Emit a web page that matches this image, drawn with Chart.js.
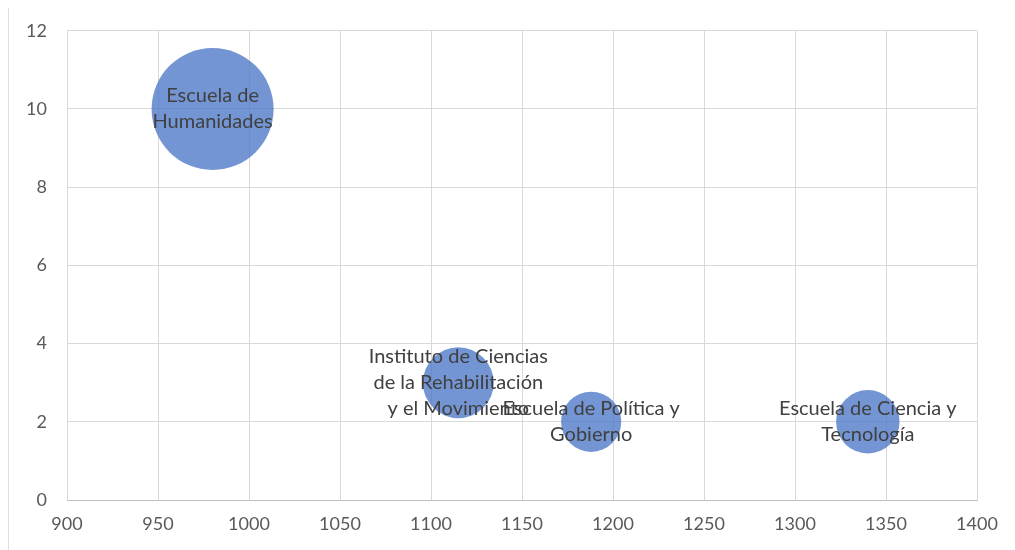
<!DOCTYPE html>
<html>
<head>
<meta charset="utf-8">
<script src="https://cdn.jsdelivr.net/npm/chart.js@4/dist/chart.umd.min.js"></script>
<style>
  html, body { margin: 0; padding: 0; background: #fff; }
  #wrap { width: 1015px; height: 550px; position: relative; }
</style>
</head>
<body>
<div id="wrap"><canvas id="bubbleChart" width="1015" height="550"></canvas></div>
<script>
// datos
var schools = [
    ['Escuela de', 'Humanidades'],
    ['Instituto de Ciencias', 'de la Rehabilitación', 'y el Movimiento'],
    ['Escuela de Política y', 'Gobierno'],
    ['Escuela de Ciencia y', 'Tecnología']
];
var xValues = [980, 1115, 1188, 1340];
var yValues = [10, 3, 2, 2];
var sizes = [37, 12.5, 9, 10];
var xTicks = [900, 950, 1000, 1050, 1100, 1150, 1200, 1250, 1300, 1350, 1400];
var yTicks = [0, 2, 4, 6, 8, 10, 12];

// area del circulo proporcional al tamaño (como Excel)
var maxRadius = 61;
var maxSize = Math.max.apply(null, sizes);

var points = [];
for (var i = 0; i < xValues.length; i++) {
    points.push({ x: xValues[i], y: yValues[i], r: maxRadius * Math.sqrt(sizes[i] / maxSize) });
}

var bubbleLabels = {
    id: 'bubbleLabels',
    afterDatasetsDraw: function (chart) {
        var ctx = chart.ctx;
        var meta = chart.getDatasetMeta(0);
        ctx.save();
        ctx.font = '20px Lato, "Liberation Sans", sans-serif';
        ctx.fillStyle = '#404040';
        ctx.textAlign = 'center';
        ctx.textBaseline = 'middle';
        meta.data.forEach(function (el, idx) {
            var lines = schools[idx];
            var lh = 26;
            var start = el.y - (lines.length - 1) * lh / 2;
            lines.forEach(function (line, j) {
                ctx.fillText(line, el.x, start + j * lh);
            });
        });
        ctx.restore();
    }
};

var frameLine = {
    id: 'frameLine',
    beforeDraw: function (chart) {
        var ctx = chart.ctx;
        ctx.save();
        ctx.strokeStyle = '#e0e0e0';
        ctx.lineWidth = 1;
        ctx.beginPath();
        ctx.moveTo(8.5, 8);
        ctx.lineTo(8.5, 550);
        ctx.stroke();
        ctx.restore();
    }
};

var ctx = document.getElementById('bubbleChart').getContext('2d');
var chart = new Chart(ctx, {
    type: 'bubble',
    data: {
        datasets: [{
            label: 'Escuelas',
            data: points,
            backgroundColor: 'rgba(68, 114, 196, 0.75)',
            borderWidth: 0,
            hoverRadius: 0,
            clip: false
        }]
    },
    options: {
        responsive: false,
        animation: false,
        layout: {
            autoPadding: false,
            padding: { top: 29, right: 38, left: 0, bottom: 0 }
        },
        scales: {
            x: {
                type: 'linear',
                min: 900,
                max: 1400,
                afterBuildTicks: function (axis) {
                    axis.ticks = xTicks.map(function (v) { return { value: v }; });
                },
                afterFit: function (axis) { axis.height = 50; },
                grid: { color: '#d9d9d9', lineWidth: 1, drawTicks: false },
                border: { color: '#bfbfbf', width: 1 },
                ticks: {
                    color: '#595959',
                    font: { family: 'Lato, "Liberation Sans", sans-serif', size: 18 },
                    padding: 13,
                    maxRotation: 0,
                    autoSkip: false,
                    callback: function (value) { return String(value); }
                }
            },
            y: {
                type: 'linear',
                min: 0,
                max: 12,
                afterBuildTicks: function (axis) {
                    axis.ticks = yTicks.map(function (v) { return { value: v }; });
                },
                afterFit: function (axis) { axis.width = 67; },
                grid: { color: '#d9d9d9', lineWidth: 1, drawTicks: false },
                border: { display: false },
                ticks: {
                    color: '#595959',
                    font: { family: 'Lato, "Liberation Sans", sans-serif', size: 18 },
                    padding: 20,
                    callback: function (value) { return String(value); }
                }
            }
        },
        plugins: {
            legend: { display: false },
            tooltip: { enabled: false }
        }
    },
    plugins: [frameLine, bubbleLabels]
});
</script>
</body>
</html>
